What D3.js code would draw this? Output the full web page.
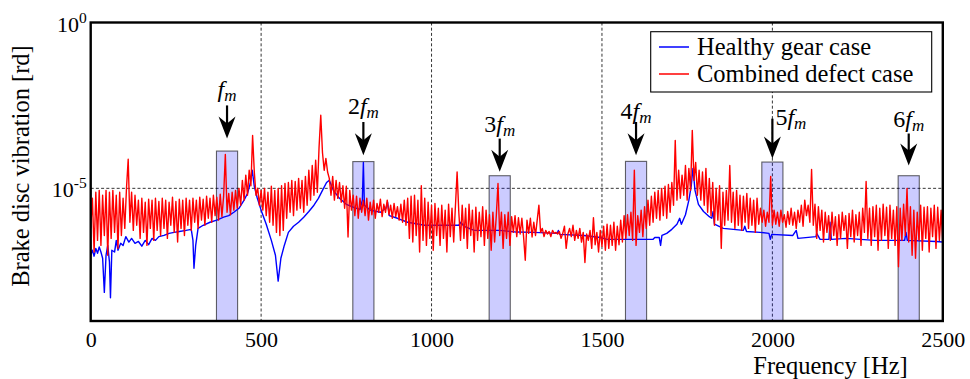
<!DOCTYPE html>
<html>
<head>
<meta charset="utf-8">
<script src="https://cdn.jsdelivr.net/npm/d3@7"></script>
<style>
  body { margin: 0; background: #fff; }
</style>
</head>
<body>
<svg id="chart" width="970" height="379"></svg>
<script>
// Spectrum of the combined defect case, one amplitude per 5 Hz bin from 0 to 2500 Hz [rd]
const freqStep = 5;
const combinedDefect = [
  6.2e-7,5e-6,1.2e-7,7.6e-6,2.7e-7,8.7e-6,1.9e-7,6.2e-6,3.8e-7,8.7e-6,9.6e-8,7.6e-6,3.1e-7,8.7e-6,4.7e-7,6.2e-6,1.55e-7,7.6e-6,3.8e-7,5e-6,
  6.2e-7,1e-5,7.5e-5,9.5e-7,7.6e-6,5.4e-7,6.2e-6,7.7e-7,4.4e-6,3.1e-7,5e-6,4.7e-7,3.8e-6,1.9e-7,4.7e-6,6.2e-7,4.4e-6,2.7e-7,5e-6,5.4e-7,
  4e-6,3.8e-7,5e-6,6.2e-7,4.4e-6,3.1e-7,3.8e-6,7.7e-7,5.4e-6,4.7e-7,4e-6,2.4e-7,4.7e-6,6.2e-7,4.4e-6,3.8e-7,5e-6,7.7e-7,4.4e-6,5.4e-7,
  5e-6,9.5e-7,4.4e-6,6.2e-7,5.4e-6,1.1e-6,4.7e-6,7.7e-7,5.8e-6,1.25e-6,5e-6,9.5e-7,6.2e-6,1.5e-6,5.4e-6,1.1e-6,6.6e-6,1.4e-6,5.8e-6,1.05e-4,
  1.9e-6,7e-6,1.6e-6,7.6e-6,2.2e-6,8.7e-6,2.5e-6,1e-5,3.1e-6,1.74e-5,4.4e-6,2.5e-5,6.2e-6,3.5e-5,1.2e-5,3.9e-4,3.1e-5,6.2e-6,1e-5,3.1e-6,
  8.7e-6,2.2e-6,1e-5,1.5e-6,7.6e-6,9.5e-7,1.15e-5,7.7e-7,8.7e-6,4.7e-7,1e-5,3.8e-7,1.2e-5,5.4e-7,1.4e-5,1.25e-6,1.5e-5,1.9e-6,1.74e-5,1.5e-6,
  1.6e-5,2.2e-6,2e-5,2.5e-6,1.74e-5,1.9e-6,2.3e-5,3.1e-6,3.5e-5,4.4e-6,4.9e-5,6.2e-6,7e-5,7.6e-6,1.75e-4,1.6e-3,1.2e-4,3.5e-5,8e-5,3.1e-5,
  2e-5,6.2e-6,2.3e-5,4.4e-6,1.74e-5,5e-6,1.5e-5,3.8e-6,1.2e-5,2.5e-6,1.15e-5,3.4e-7,8.7e-6,2.2e-6,6.2e-6,1.5e-6,5.8e-6,1.25e-6,5e-6,1.9e-6,
  4.4e-6,1.5e-6,5e-6,1.1e-6,3.8e-6,1.6e-6,4.4e-6,1.25e-6,3.5e-6,1.9e-6,4.7e-6,1.4e-6,3.3e-6,1.9e-6,4.4e-6,1.6e-6,3.1e-6,1.25e-6,3.5e-6,1.4e-6,
  2.8e-6,1.1e-6,3.3e-6,9.5e-7,4.4e-6,7.7e-7,5e-6,3.1e-7,5.8e-6,2.4e-7,6.2e-6,3.8e-7,4.4e-6,1.2e-7,1.2e-5,2.7e-7,5e-6,1.9e-7,3.8e-6,3.1e-7,
  3.1e-6,1.36e-7,3.5e-6,3.8e-7,2.5e-6,1.9e-7,3.1e-6,3.1e-7,2.2e-6,1.2e-7,3.3e-6,3.5e-7,2.5e-6,2.4e-7,2.8e-6,3.1e-5,1.9e-6,2.7e-7,3.1e-6,3.1e-7,
  2.5e-6,1.55e-7,3.3e-6,3.8e-7,2.2e-6,1.2e-7,2.7e-6,2.7e-7,1.9e-6,3.5e-7,2.8e-6,1.9e-7,2.2e-6,3.1e-7,1.6e-6,1.36e-7,1.9e-6,2.4e-7,1.5e-6,1.4e-5,
  3.8e-7,1.9e-6,1.55e-7,1.6e-6,3.1e-7,1.9e-6,1.9e-7,1.4e-6,4.7e-7,1.5e-6,3.5e-7,1.3e-6,4.2e-7,1.25e-6,3.5e-7,6.8e-8,1.1e-6,4.4e-7,1.25e-6,3.4e-7,
  9.5e-7,3.8e-7,1.1e-6,3.1e-6,4.7e-7,6.2e-7,3.5e-7,5.4e-7,4.2e-7,5e-7,3.5e-7,5.4e-7,4.4e-7,4.7e-7,4.2e-7,5e-7,3.1e-7,4.4e-7,7.2e-7,1.55e-7,
  4.2e-7,6.2e-7,3.5e-7,7.7e-7,2.7e-7,5.4e-7,3.1e-7,6.2e-7,2.4e-7,4.7e-7,5.8e-8,4.2e-7,2.7e-7,5.4e-7,1.55e-7,1.3e-6,2e-7,4.7e-7,1.2e-7,5.4e-7,
  1.8e-7,7.2e-7,1.36e-7,8.3e-7,1.55e-7,7.7e-7,1.9e-7,9.5e-7,1.36e-7,7.2e-7,2e-7,1.1e-6,2.4e-7,1.5e-6,3.1e-7,1.6e-6,3.8e-7,1.9e-6,2.7e-7,3.5e-5,
  1.9e-7,1.5e-6,4.7e-7,2.2e-6,3.5e-7,2.8e-6,6.2e-7,4.4e-6,7.7e-7,5.8e-6,9.5e-7,7.6e-6,1.25e-6,8.7e-6,1.1e-6,1e-5,1.5e-6,1.15e-5,1.25e-6,1.3e-5,
  1.9e-6,1.5e-5,3.1e-6,2.8e-4,4.4e-6,3.5e-5,5e-6,2.5e-5,6.2e-6,4.9e-5,4.4e-6,4e-5,8.7e-6,5.6e-4,1.74e-5,6e-5,6.2e-6,3.5e-5,4.4e-6,3.1e-5,
  3.1e-6,4e-5,1.9e-6,2e-5,1.5e-6,1.5e-5,7.7e-7,1e-5,1.1e-6,1.2e-5,1.55e-7,7.6e-6,7.7e-7,8.7e-6,1.1e-6,4.9e-5,9.5e-7,7.6e-6,6.2e-7,8.7e-6,
  7.7e-7,6.2e-6,5.4e-7,5.8e-6,9.5e-7,7e-6,6.2e-7,5e-6,7.7e-7,4.4e-6,4.7e-7,5e-6,8.3e-7,2.5e-6,9.5e-7,2.2e-6,7.2e-7,1.9e-6,9.5e-7,2.3e-5,
  7.7e-7,2.2e-6,8.3e-7,1.9e-6,7.2e-7,2.2e-6,9.5e-7,1.6e-6,6.7e-7,2e-6,8.3e-7,2.5e-6,7.7e-7,1.9e-6,6.2e-7,2.2e-6,9.5e-7,3.1e-6,7.2e-7,4.4e-6,
  1.5e-6,3.1e-6,9.5e-7,3.7e-5,7.7e-7,3.3e-6,3.1e-7,2.8e-6,5.4e-7,2.2e-6,2.4e-7,1.9e-6,4.7e-7,1.5e-6,2.7e-7,1.9e-6,3.8e-7,1.4e-6,1.9e-7,1.6e-6,
  3.1e-7,1.9e-6,5.4e-7,1.5e-6,1.55e-7,1.75e-6,3.5e-7,2.2e-6,2.4e-7,1.6e-6,3.8e-7,1.9e-6,1.9e-7,2.5e-6,4.7e-7,1.6e-5,3.1e-7,2.5e-6,1.9e-7,2.8e-6,
  3.5e-7,3.1e-6,1.36e-7,2.5e-6,2.7e-7,3.3e-6,3.8e-7,2.7e-6,1.55e-7,3.1e-6,3.1e-7,2.2e-6,1.9e-7,2.8e-6,4.3e-8,2.5e-6,2.7e-7,3.3e-6,3.8e-7,1e-5,
  2.4e-7,2.8e-6,9.6e-8,2.2e-6,7.8e-8,1.9e-6,2.7e-7,3.1e-6,1.36e-7,2.7e-6,3.1e-7,2.8e-6,1.2e-7,2.5e-6,3.5e-7,3.1e-6,1.55e-7,2.7e-6,2.7e-7,2.2e-6,1.9e-7
];

// Spectrum of the healthy gear case: frequency [Hz] and amplitude [rd]
const healthyFreq = [
  0,5,10,15,20,25,30,35,40,45,50,55,58,62,70,75,80,88,95,103,112,120,130,140,150,160,170,180,190,200,
  215,230,245,260,280,295,300,303,308,315,330,350,370,390,405,420,435,450,460,468,474,480,488,500,515,530,542,550,558,568,
  580,595,610,625,640,655,668,680,692,700,712,730,750,770,790,797,800,803,820,850,866,871,876,900,930,980,1030,1080,1086,1095,
  1125,1200,1250,1300,1369,1372,1376,1447,1495,1515,1650,1655,1668,1672,1676,1690,1705,1720,1728,1733,1745,1755,1762,1767,1773,1783,1798,1815,1822,1826,
  1830,1856,1915,1919,1924,1964,1990,1994,1998,2060,2070,2075,2128,2130,2140,2166,2169,2173,2217,2300,2388,2392,2396,2480,2500
];
const healthyAmp = [
  9.6e-8,1.36e-7,9e-8,1.55e-7,1.1e-7,1.7e-7,1.2e-7,7.8e-8,7.3e-9,9.6e-8,1.9e-7,6e-8,5e-9,1.36e-7,1.2e-7,2.7e-7,1.36e-7,2.2e-7,1.9e-7,3.5e-7,2.4e-7,3.1e-7,2.2e-7,2.5e-7,1.8e-7,2.7e-7,2e-7,3.1e-7,2.7e-7,3.5e-7,
  3.8e-7,4.4e-7,4.7e-7,5e-7,5.4e-7,5.8e-7,2.7e-7,3.9e-8,1.9e-7,6.2e-7,7.7e-7,9.5e-7,1.1e-6,1.35e-6,1.5e-6,1.9e-6,2.5e-6,4.4e-6,7e-6,1.4e-5,3.5e-5,1.15e-5,5.4e-6,2.2e-6,8.3e-7,2.7e-7,9.6e-8,1.6e-8,7.8e-8,1.9e-7,
  4.7e-7,7.2e-7,9.5e-7,1.35e-6,2e-6,3.1e-6,5e-6,8.7e-6,1.5e-5,1.74e-5,8.7e-6,5e-6,3.3e-6,2.7e-6,2.3e-6,4.4e-6,6e-5,3.1e-6,2.2e-6,1.9e-6,2.5e-6,3.8e-6,1.5e-6,1.25e-6,9.5e-7,7.7e-7,7.7e-7,7.7e-7,9.5e-7,7.2e-7,
  5.4e-7,5.4e-7,4.8e-7,4.7e-7,4.4e-7,5.4e-7,4.1e-7,3.8e-7,3.3e-7,2.9e-7,2.9e-7,3.3e-7,3.3e-7,1.9e-7,3.8e-7,4.4e-7,5.8e-7,8.3e-7,1.25e-6,8.3e-7,1.6e-6,4.4e-6,1.2e-5,4e-5,8.7e-6,3.3e-6,2e-6,1.4e-6,1.25e-6,2e-6,
  8.3e-7,6.2e-7,5.4e-7,7.2e-7,5e-7,4.7e-7,4.4e-7,2.9e-7,4.1e-7,3.8e-7,5.4e-7,3.1e-7,3.5e-7,4.4e-7,2.9e-7,2.9e-7,9.5e-7,2.9e-7,3.1e-7,2.7e-7,2.7e-7,4.7e-7,2.7e-7,2.5e-7,2.4e-7
];

// Gear-mesh harmonic bands (f_m = 400 Hz) and their annotations
const harmonicOrder = ["", "2", "3", "4", "5", "6"];
const bandCenters = [400, 800, 1200, 1600, 2000, 2400];
const bandHalfWidth = 31;
const bandPeaks = [1.33e-4, 6.4e-5, 2.4e-5, 6.5e-5, 6.2e-5, 2.4e-5];
const arrowTail = [3.16e-3, 1e-3, 3.16e-4, 1e-3, 1.26e-3, 4.5e-4];
const arrowTip = [3.16e-4, 1e-4, 3.16e-5, 1e-4, 7.9e-5, 4.9e-5];
const labelAt = [5.5e-3, 1.78e-3, 5e-4, 1.26e-3, 7.9e-4, 7.1e-4];

const xTicks = [0, 500, 1000, 1500, 2000, 2500];
const yTicks = [1e-5, 1];
const xGrid = [500, 1000, 1500, 2000];
const yGrid = [1e-5];
const seriesNames = ["Healthy gear case", "Combined defect case"];
const seriesColors = ["#0000ff", "#ff0000"];

const FONT = '"Liberation Serif"';
const svg = d3.select("#chart");
const plot = { left: 90.7, right: 942.8, top: 22.5, bottom: 321 };

const x = d3.scaleLinear().domain([0, 2500]).range([plot.left, plot.right]);
const y = d3.scaleLog().domain([1e-9, 1]).range([plot.bottom, plot.top]);

svg.append("defs").append("clipPath").attr("id", "plotClip")
  .append("rect")
  .attr("x", plot.left).attr("y", plot.top)
  .attr("width", plot.right - plot.left).attr("height", plot.bottom - plot.top);

// dashed major grid
const grid = svg.append("g").attr("stroke", "#000").attr("stroke-width", 0.8)
  .attr("stroke-dasharray", "3,2.2");
grid.selectAll("line.gx").data(xGrid).join("line").attr("class", "gx")
  .attr("x1", d => x(d)).attr("x2", d => x(d))
  .attr("y1", plot.top).attr("y2", plot.bottom);
grid.selectAll("line.gy").data(yGrid).join("line").attr("class", "gy")
  .attr("x1", plot.left).attr("x2", plot.right)
  .attr("y1", d => y(d)).attr("y2", d => y(d));

// harmonic bands
svg.append("g").selectAll("rect").data(bandCenters).join("rect")
  .attr("x", d => x(d - bandHalfWidth))
  .attr("width", d => x(d + bandHalfWidth) - x(d - bandHalfWidth))
  .attr("y", (d, i) => y(bandPeaks[i]))
  .attr("height", (d, i) => plot.bottom - y(bandPeaks[i]))
  .attr("fill", "#0000ff").attr("fill-opacity", 0.2)
  .attr("stroke", "#000").attr("stroke-opacity", 0.6).attr("stroke-width", 1.1);

// spectra
const lines = svg.append("g").attr("clip-path", "url(#plotClip)");
const healthy = healthyFreq.map((f, i) => [f, healthyAmp[i]]);
const combined = combinedDefect.map((v, i) => [i * freqStep, v]);
const lineGen = d3.line().x(d => x(d[0])).y(d => y(d[1]));
lines.append("path").datum(healthy).attr("d", lineGen)
  .attr("fill", "none").attr("stroke", seriesColors[0]).attr("stroke-width", 1.4)
  .attr("stroke-linejoin", "round");
lines.append("path").datum(combined).attr("d", lineGen)
  .attr("fill", "none").attr("stroke", seriesColors[1]).attr("stroke-width", 1.4)
  .attr("stroke-linejoin", "round");

// axes: tick labels only
const xAxis = svg.append("g").attr("transform", `translate(0,${plot.bottom})`)
  .call(d3.axisBottom(x).tickValues(xTicks).tickSize(0).tickFormat(d3.format("d")));
xAxis.attr("font-family", null).attr("font-size", null);
xAxis.select(".domain").remove();
xAxis.selectAll("text").attr("y", 26).attr("dy", 0).attr("fill", "#000")
  .attr("font-family", FONT).attr("font-size", 22);

const yAxis = svg.append("g").attr("transform", `translate(${plot.left},0)`)
  .call(d3.axisLeft(y).tickValues(yTicks).tickSize(0).tickFormat(() => ""));
yAxis.attr("font-family", null).attr("font-size", null);
yAxis.select(".domain").remove();
yAxis.selectAll(".tick text").each(function (d) {
  const t = d3.select(this).attr("x", -4).attr("dy", 0).attr("y", 8.5).attr("fill", "#000")
    .attr("font-family", FONT).attr("font-size", 22);
  t.text(null);
  t.append("tspan").text("10");
  t.append("tspan").attr("dy", -9).attr("font-size", 15.5)
    .text(String(Math.round(Math.log10(d))).replace("\u2212", "-"));
});

// frame
svg.append("rect")
  .attr("x", plot.left).attr("y", plot.top)
  .attr("width", plot.right - plot.left).attr("height", plot.bottom - plot.top)
  .attr("fill", "none").attr("stroke", "#000").attr("stroke-width", 2.4);

// harmonic arrows and labels
const ann = svg.append("g");
bandCenters.forEach((c, i) => {
  const ax = x(c), yT = y(arrowTail[i]), yH = y(arrowTip[i]);
  ann.append("line").attr("x1", ax).attr("x2", ax).attr("y1", yT).attr("y2", yH - 14)
    .attr("stroke", "#000").attr("stroke-width", 2.2);
  ann.append("path")
    .attr("d", `M${ax},${yH} L${ax - 8.5},${yH - 22} L${ax},${yH - 15} L${ax + 8.5},${yH - 22} Z`)
    .attr("fill", "#000");
  const beside = harmonicOrder[i] === "5";
  const lbl = ann.append("text")
    .attr("x", beside ? ax + 3 : ax)
    .attr("y", y(labelAt[i]))
    .attr("text-anchor", beside ? "start" : "middle")
    .attr("font-family", FONT).attr("font-size", 24);
  if (harmonicOrder[i]) lbl.append("tspan").text(harmonicOrder[i]);
  lbl.append("tspan").attr("font-style", "italic").text("f");
  lbl.append("tspan").attr("font-style", "italic").attr("font-size", 17)
    .attr("dy", 4).text("m");
});

// axis titles
svg.append("text").attr("x", 830.5).attr("y", 374).attr("text-anchor", "middle")
  .attr("font-family", FONT).attr("font-size", 24.5).text("Frequency [Hz]");
svg.append("text").attr("transform", "translate(28.5,166) rotate(-90)")
  .attr("text-anchor", "middle").attr("font-family", FONT).attr("font-size", 24.5)
  .text("Brake disc vibration [rd]");

// legend
const lg = svg.append("g");
lg.append("rect").attr("x", 650.7).attr("y", 31.7).attr("width", 281).attr("height", 60.3)
  .attr("fill", "#fff").attr("stroke", "#000").attr("stroke-width", 1.1);
seriesNames.forEach((name, i) => {
  const ly = 47 + i * 27;
  lg.append("line").attr("x1", 659).attr("x2", 689).attr("y1", ly).attr("y2", ly)
    .attr("stroke", seriesColors[i]).attr("stroke-width", 1.5);
  lg.append("text").attr("x", 697).attr("y", ly + 8)
    .attr("font-family", FONT).attr("font-size", 24.5).text(name);
});
</script>
</body>
</html>
